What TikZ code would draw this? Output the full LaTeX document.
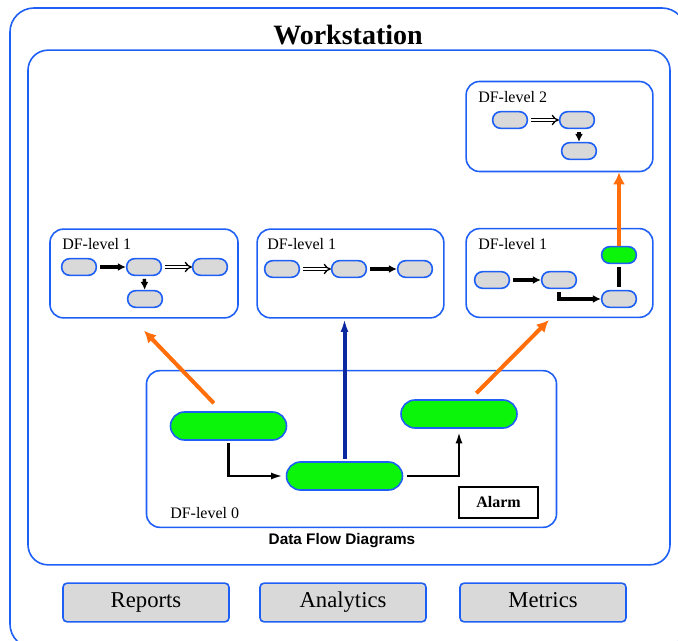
\documentclass[tikz,border=0pt]{standalone}
\usepackage{fontspec}
\setmainfont{Liberation Serif}
\newfontfamily\headsans{Liberation Sans}
\usepackage{tikz}
\usetikzlibrary{arrows.meta,positioning,shapes}
\definecolor{boxblue}{RGB}{30,95,245}
\definecolor{pillgray}{RGB}{217,217,217}
\definecolor{pillgreen}{RGB}{10,245,10}
\definecolor{uporange}{RGB}{255,110,10}
\definecolor{darkblue}{RGB}{10,40,160}

\begin{document}
\begin{tikzpicture}[x=0.75pt,y=-0.75pt]
            \tikzstyle{frame}=[rectangle, rounded corners=10pt, line width=1.2pt, draw = boxblue, inner sep=0pt]
            \tikzstyle{pill}=[rectangle, rounded corners=6pt, minimum width=26pt, minimum height=12.5pt, inner sep=0pt, line width=1.2pt, draw = boxblue, fill=pillgray]
            \tikzstyle{bigpill}=[rectangle, rounded corners=10.5pt, minimum width=87pt, minimum height=21pt, inner sep=0pt, line width=1.2pt, draw = boxblue, fill=pillgreen]
            \tikzstyle{tab}=[rectangle, rounded corners=3pt, minimum width=124.5pt, minimum height=29pt, text height=11.5pt, text depth=3.5pt, line width=1.2pt, draw = boxblue, fill=pillgray, font=\fontsize{17}{20}\selectfont]
            \tikzstyle{lbl}=[anchor=west, inner sep=0pt, font=\fontsize{12}{14}\selectfont]
            \tikzstyle{sflow}=[line width=2.6pt, -{Latex[length=6pt,width=6pt]}]
            \tikzstyle{dflow}=[double, double distance=1.6pt, line width=1pt, -{Implies}]
            \tikzstyle{flow}=[line width=2.2pt, -{Latex[length=11pt,width=5pt]}]
            \tikzstyle{conn}=[line width=2.6pt]
            \tikzstyle{up}=[line width=3pt, draw=uporange, -{Latex[length=9pt,width=9pt]}]
            \useasboundingbox (0,0) rectangle (678,641);
            % frames
            {\node[frame, rounded corners=18pt, minimum width=507pt, minimum height=480pt] (ws) at (348,328){};
            \node (ttl) at (348,35){\fontsize{21}{24}\selectfont\bfseries Workstation};
            \node[frame, rounded corners=15pt, minimum width=481.5pt, minimum height=386pt] (dfd) at (349,307.5){};
            \node (dfdl) at (342,541){\headsans\fontsize{11.5}{13}\selectfont\bfseries Data Flow Diagrams};
            \node[tab] (rep) at (146,602.5){Reports};
            \node[tab] (ana) at (343,602.5){Analytics};
            \node[tab] (met) at (543,602.5){Metrics};}
            % level 0
            {\node[frame, minimum width=307.5pt, minimum height=117.5pt] (l0) at (351.5,449){};
            \node[lbl] at (170,513){DF-level 0};
            \node[bigpill] (gL) at (228.5,426){};
            \node[bigpill] (gM) at (344.5,476){};
            \node[bigpill] (gR) at (459,414){};
            \node[rectangle, draw=black, line width=1.2pt, minimum width=59pt, minimum height=23pt] (alm) at (498.5,502.5){\fontsize{12}{14}\selectfont\bfseries Alarm};}
            % level 1
            {\node[frame, minimum width=141pt, minimum height=66.5pt] (l1) at (144,273.5){};
            \node[lbl] at (62,244){DF-level 1};
            \node[pill] (a1) at (79,267){};
            \node[pill] (b1) at (144,267){};
            \node[pill] (c1) at (210,267){};
            \node[pill] (d1) at (145,299){};
            \node[frame, minimum width=140pt, minimum height=66.5pt] (m1) at (350.5,273.5){};
            \node[lbl] at (267,244){DF-level 1};
            \node[pill] (a2) at (282,269){};
            \node[pill] (b2) at (349,269){};
            \node[pill] (c2) at (415,269){};
            \node[frame, minimum width=140pt, minimum height=66.5pt] (r1) at (559.5,273){};
            \node[lbl] at (478,244){DF-level 1};
            \node[pill] (a3) at (492,280){};
            \node[pill] (b3) at (559,280){};
            \node[pill, fill=pillgreen] (c3) at (619,255){};
            \node[pill] (d3) at (619,299){};}
            % level 2
            {\node[frame, minimum width=140pt, minimum height=67.5pt] (r2) at (559.5,126.5){};
            \node[lbl] at (478,97){DF-level 2};
            \node[pill] (a4) at (510,120){};
            \node[pill] (b4) at (577,120){};
            \node[pill] (c4) at (579,151){};}
\path (a1) edge [sflow, shorten <=2pt] (b1);
            \path (b1) edge [dflow, shorten <=2pt] (c1);
            \path (b1) edge [sflow, shorten <=2pt] (d1);
            \path (a2) edge [dflow, shorten <=2pt] (b2);
            \path (b2) edge [sflow, shorten <=2pt] (c2);
            \path (a3) edge [sflow, shorten <=2pt] (b3);
            \draw[sflow, shorten <=2pt] (b3) |- (d3);
            \path (c3) edge [conn, shorten <=2pt, shorten >=2pt] (d3);
            \path (a4) edge [dflow, shorten <=2pt] (b4);
            \path (b4.south -| c4) edge [sflow, shorten <=2pt] (c4);
            \draw[flow, shorten <=2pt] (gL) |- (gM);
            \draw[flow, shorten <=3pt] (gM) -| (gR);
            \draw[line width=3pt, draw=darkblue, -{Latex[length=10pt,width=6pt]}, shorten <=2pt] (gM.north) -- (gM.north |- m1.south);
            \draw[up] ([shift={(-11pt,6pt)}]gL.north) -- ([yshift=-9pt]l1.south);
            \draw[up] ([shift={(13pt,4.5pt)}]gR.north) -- ([shift={(-8pt,-1.5pt)}]r1.south);
            \draw[up] (c3) -- (c3 |- r2.south);
        \end{tikzpicture}
\end{document}
